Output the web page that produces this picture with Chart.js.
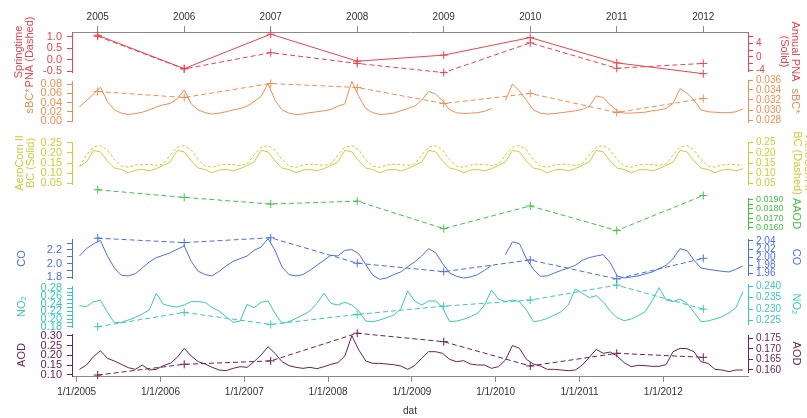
<!DOCTYPE html>
<html>
<head>
<meta charset="utf-8">
<script src="https://cdn.jsdelivr.net/npm/chart.js@4/dist/chart.umd.min.js"></script>
<style>
  html, body { margin: 0; padding: 0; background: #fff; }
  #wrap { width: 807px; height: 418px; }
</style>
</head>
<body>
<div id="wrap"><canvas id="chart" width="807" height="418"></canvas></div>
<script>
// yearly (spring) values, drawn against the top year axis
const years = [2005, 2006, 2007, 2008, 2009, 2010, 2011, 2012];
const springPna = [1.02, -0.41, 0.30, -0.17, -0.57, 0.73, -0.38, -0.17];
const annualPna = [6.4, -3.5, 6.7, -1.3, 0.5, 5.7, -1.8, -5.0];
const springSbc = [0.0337, 0.0325, 0.0353, 0.0345, 0.0313, 0.0333, 0.0295, 0.0323];
const springAaod = [0.0200, 0.0192, 0.0185, 0.0188, 0.0159, 0.0183, 0.0157, 0.0194];
const springCo = [2.047, 2.036, 2.048, 1.985, 1.964, 1.993, 1.946, 1.997];
const springNo2 = [0.2224, 0.2286, 0.2234, 0.2277, 0.2313, 0.2339, 0.2404, 0.2300];
const springAod = [0.1576, 0.1627, 0.1643, 0.1774, 0.1734, 0.1619, 0.1679, 0.1660];

// monthly values Jan 2005 .. Dec 2012, drawn against the bottom date axis
const months = [];
for (let i = 0; i < 96; i++) months.push(2005 + (i + 0.4) / 12);

const sbc = [
  0.031, 0.044, 0.058, 0.073, 0.042, 0.024, 0.017, 0.014, 0.016, 0.019, 0.024, 0.030,
  0.035, 0.038, 0.048, 0.067, 0.037, 0.024, 0.018, 0.015, 0.017, 0.020, 0.024, 0.027,
  0.032, 0.042, 0.053, 0.081, 0.045, 0.024, 0.017, 0.014, 0.015, 0.018, 0.020, 0.022,
  0.025, 0.032, 0.037, 0.086, 0.053, 0.027, 0.018, 0.014, 0.015, 0.017, 0.022, 0.027,
  0.032, 0.045, 0.064, 0.058, 0.044, 0.024, 0.018, 0.016, 0.017, 0.018, 0.021, 0.027,
  null,  0.045, 0.080, 0.065, 0.045, 0.024, 0.017, 0.015, 0.016, 0.018, 0.020, 0.022,
  0.025, 0.032, 0.054, 0.051, 0.035, 0.022, 0.017, 0.017, 0.018, 0.019, 0.022, 0.024,
  0.027, 0.038, 0.070, 0.060, 0.045, 0.024, 0.020, 0.019, 0.018, 0.018, 0.020, 0.026
];
const bcSolid = [
  0.132, 0.155, 0.212, 0.205, 0.160, 0.125, 0.118, 0.102, 0.115, 0.119, 0.111, 0.122,
  0.138, 0.155, 0.212, 0.205, 0.160, 0.125, 0.118, 0.102, 0.115, 0.119, 0.111, 0.122,
  0.138, 0.155, 0.212, 0.205, 0.160, 0.125, 0.118, 0.102, 0.115, 0.119, 0.111, 0.122,
  0.138, 0.155, 0.212, 0.205, 0.160, 0.125, 0.118, 0.102, 0.115, 0.119, 0.111, 0.122,
  0.138, 0.155, 0.212, 0.205, 0.160, 0.125, 0.118, 0.102, 0.115, 0.119, 0.111, 0.122,
  0.138, 0.155, 0.212, 0.205, 0.160, 0.125, 0.118, 0.102, 0.115, 0.119, 0.111, 0.122,
  0.138, 0.155, 0.212, 0.205, 0.160, 0.125, 0.118, 0.102, 0.115, 0.119, 0.111, 0.122,
  0.138, 0.155, 0.212, 0.205, 0.160, 0.125, 0.118, 0.102, 0.115, 0.119, 0.111, 0.122
];
const bcDashed = [
  0.132, 0.190, 0.228, 0.236, 0.214, 0.167, 0.135, 0.129, 0.140, 0.144, 0.142, 0.138,
  0.145, 0.190, 0.228, 0.236, 0.214, 0.167, 0.135, 0.129, 0.140, 0.144, 0.142, 0.138,
  0.145, 0.190, 0.228, 0.236, 0.214, 0.167, 0.135, 0.129, 0.140, 0.144, 0.142, 0.138,
  0.145, 0.190, 0.228, 0.236, 0.214, 0.167, 0.135, 0.129, 0.140, 0.144, 0.142, 0.138,
  0.145, 0.190, 0.228, 0.236, 0.214, 0.167, 0.135, 0.129, 0.140, 0.144, 0.142, 0.138,
  0.145, 0.190, 0.228, 0.236, 0.214, 0.167, 0.135, 0.129, 0.140, 0.144, 0.142, 0.138,
  0.145, 0.190, 0.228, 0.236, 0.214, 0.167, 0.135, 0.129, 0.140, 0.144, 0.142, 0.138,
  0.145, 0.190, 0.228, 0.236, 0.214, 0.167, 0.135, 0.129, 0.140, 0.144, 0.142, 0.138
];
const co = [
  2.112, 2.220, 2.290, 2.340, 2.110, 1.937, 1.830, 1.820, 1.854, 1.937, 2.024, 2.088,
  2.122, 2.160, 2.210, 2.260, 2.034, 1.888, 1.840, 1.820, 1.888, 1.966, 2.034, 2.073,
  2.112, 2.195, 2.244, 2.366, 2.195, 1.951, 1.840, 1.820, 1.840, 1.902, 1.976, 2.049,
  2.122, 2.112, 2.195, 2.205, 2.146, 1.985, 1.830, 1.771, 1.790, 1.840, 1.878, 1.956,
  2.024, 2.112, 2.220, 2.160, 2.000, 1.863, 1.815, 1.790, 1.805, 1.839, 1.902, 1.976,
  null,  2.132, 2.320, 2.293, 2.073, 1.917, 1.815, 1.820, 1.863, 1.902, 1.937, 1.976,
  2.049, 2.088, 2.112, 2.132, 2.015, 1.820, 1.790, 1.805, 1.820, 1.849, 1.878, 1.927,
  1.976, 2.073, 2.220, 2.190, 2.049, 1.937, 1.917, 1.902, 1.888, 1.878, 1.917, 1.966
];
const no2 = [
  0.2348, 0.2322, 0.2452, 0.2487, 0.2174, 0.1904, 0.1913, 0.1974, 0.2043, 0.2130, 0.2235, 0.2670,
  0.2383, 0.2339, 0.2313, 0.2365, 0.2452, 0.2452, 0.2435, 0.2296, 0.2209, 0.2061, 0.1913, 0.1948,
  0.2383, 0.2296, 0.2435, 0.2470, 0.2148, 0.1887, 0.1930, 0.2017, 0.2104, 0.2209, 0.2409, 0.2670,
  0.2409, 0.2365, 0.2435, 0.2365, 0.2209, 0.1948, 0.1930, 0.1974, 0.2035, 0.2104, 0.2261, 0.2730,
  0.2470, 0.2365, 0.2470, 0.2470, 0.2296, 0.1930, 0.1948, 0.1991, 0.2061, 0.2148, 0.2365, 0.2757,
  0.2522, 0.2452, 0.2496, 0.2452, 0.2235, 0.1930, 0.1957, 0.2017, 0.2104, 0.2191, 0.2365, 0.2783,
  0.2670, 0.2557, 0.2609, 0.2452, 0.2209, 0.2035, 0.1957, 0.2000, 0.2087, 0.2191, 0.2470, 0.2817,
  0.2496, 0.2452, 0.2522, 0.2409, 0.2174, 0.1930, 0.1948, 0.2000, 0.2061, 0.2157, 0.2296, 0.2713
];
const aod = [
  0.1288, 0.1508, 0.1932, 0.2237, 0.1847, 0.1712, 0.1542, 0.1373, 0.1288, 0.1508, 0.1254, 0.1288,
  0.1475, 0.1593, 0.1898, 0.2356, 0.1966, 0.1678, 0.1559, 0.1390, 0.1254, 0.1220, 0.1339, 0.1424,
  0.1390, 0.1678, 0.2017, 0.2441, 0.2102, 0.1678, 0.1475, 0.1390, 0.1339, 0.1390, 0.1322, 0.1424,
  0.1542, 0.1627, 0.1966, 0.3000, 0.2271, 0.1712, 0.1593, 0.1593, 0.1559, 0.1525, 0.1458, 0.1288,
  0.1475, 0.1847, 0.2186, 0.2186, 0.2102, 0.1797, 0.1678, 0.1729, 0.1559, 0.1508, 0.1508, 0.1339,
  0.1424, 0.1763, 0.2500, 0.2360, 0.1797, 0.1559, 0.1458, 0.1288, 0.1288, 0.1254, 0.1220, 0.1254,
  0.1508, 0.1898, 0.2305, 0.2102, 0.2169, 0.1966, 0.1627, 0.1424, 0.1492, 0.1475, 0.1441, 0.1441,
  0.1525, 0.2186, 0.2356, 0.2339, 0.2186, 0.1678, 0.1593, 0.1288, 0.1254, 0.1169, 0.1254, 0.1254
];

// axis ticks
const yearTicks = [2005, 2006, 2007, 2008, 2009, 2010, 2011, 2012];
const yearTickLabels = ['2005', '2006', '2007', '2008', '2009', '2010', '2011', '2012'];
const dateTicks = [2005, 2006, 2007, 2008, 2009, 2010, 2011, 2012];
const dateTickLabels = ['1/1/2005', '1/1/2006', '1/1/2007', '1/1/2008', '1/1/2009', '1/1/2010', '1/1/2011', '1/1/2012'];

const pnaLTicks = [-0.5, 0, 0.5, 1.0];
const pnaLLabels = ['-0.5', '0.0', '0.5', '1.0'];
const pnaRTicks = [-4, -2, 0, 2, 4, 6];
const pnaRLabels = ['-4', '', '0', '', '4', ''];
const sbcLTicks = [0, 0.02, 0.04, 0.06, 0.08];
const sbcLLabels = ['0.00', '0.02', '0.04', '0.06', '0.08'];
const sbcRTicks = [0.028, 0.030, 0.032, 0.034, 0.036];
const sbcRLabels = ['0.028', '0.030', '0.032', '0.034', '0.036'];
const bcTicks = [0.05, 0.10, 0.15, 0.20, 0.25];
const bcLabels = ['0.05', '0.10', '0.15', '0.20', '0.25'];
const aaodTicks = [0.0160, 0.0165, 0.0170, 0.0175, 0.0180, 0.0185, 0.0190];
const aaodLabels = ['0.0160', '', '0.0170', '', '0.0180', '', '0.0190'];
const coLTicks = [1.8, 1.9, 2.0, 2.1, 2.2, 2.3];
const coLLabels = ['1.8', '', '2.0', '', '2.2', ''];
const coRTicks = [1.96, 1.98, 2.00, 2.02, 2.04];
const coRLabels = ['1.96', '1.98', '2.00', '2.02', '2.04'];
const no2LTicks = [0.18, 0.19, 0.20, 0.21, 0.22, 0.23, 0.24, 0.25, 0.26, 0.27, 0.28];
const no2LLabels = ['0.18', '', '0.20', '', '0.22', '', '0.24', '', '0.26', '', '0.28'];
const no2RTicks = [0.225, 0.230, 0.235, 0.240];
const no2RLabels = ['0.225', '0.230', '0.235', '0.240'];
const aodLTicks = [0.10, 0.15, 0.20, 0.25, 0.30];
const aodLLabels = ['0.10', '0.15', '0.20', '0.25', '0.30'];
const aodRTicks = [0.160, 0.165, 0.170, 0.175];
const aodRLabels = ['0.160', '0.165', '0.170', '0.175'];

const FONT = "'Liberation Sans', Arial, Helvetica, sans-serif";
const AXIS_GREY = '#8a8a8a';
const LEFT_W = 72;
const RIGHT_W = 59;

const colors = {
  pna: '#e8444e',
  sbc: '#f28c52',
  bc: '#cdcd3a',
  aaod: '#45c045',
  co: '#4b6fe0',
  no2: '#3ac8bc',
  aod: '#6b2152'
};

function valueAxis(side, color, range, tickValues, tickLabels, title, titlePad, tickSize) {
  return {
    type: 'linear',
    position: side,
    stack: side,
    bounds: 'data',
    min: range[0],
    max: range[1],
    afterBuildTicks: s => { s.ticks = tickValues.map(v => ({ value: v })); },
    afterFit: s => { s.width = side === 'left' ? LEFT_W : RIGHT_W; },
    ticks: {
      autoSkip: false,
      color,
      padding: side === 'left' ? 5 : 3,
      font: { family: FONT, size: tickSize || (side === 'left' ? 11 : 10) },
      callback: (v, i) => tickLabels[i]
    },
    grid: { display: true, drawOnChartArea: false, drawTicks: true, tickLength: 5, color, tickColor: color },
    border: { display: true, color, width: 1 },
    title: {
      display: true,
      text: title,
      color,
      font: { family: FONT, size: 11, lineHeight: 1.0 },
      padding: { top: titlePad, bottom: 0 }
    }
  };
}

function spacer(side) {
  return {
    type: 'linear',
    position: side,
    stack: side,
    display: true,
    afterFit: s => { s.width = side === 'left' ? LEFT_W : RIGHT_W; },
    ticks: { display: false },
    grid: { display: false },
    border: { display: false }
  };
}

// panels top to bottom: [id, band height, axis]
const leftStack = [
  ['pnaL', 40, valueAxis('left', colors.pna, [-0.5437, 1.2055], pnaLTicks, pnaLLabels, ['Springtime', 'PNA (Dashed)'], 13)],
  ['gapL1', 9, spacer('left')],
  ['sbcL', 40, valueAxis('left', colors.sbc, [0, 0.0865], sbcLTicks, sbcLLabels, 'sBC*', 24.5)],
  ['gapL2', 21, spacer('left')],
  ['bcL', 42, valueAxis('left', colors.bc, [0.0466, 0.2534], bcTicks, bcLabels, ['AeroCom II', 'BC (Solid)'], 14.5)],
  ['gapL3', 55, spacer('left')],
  ['coL', 39, valueAxis('left', colors.co, [1.7897, 2.361], coLTicks, coLLabels, 'CO', 16)],
  ['gapL4', 8, spacer('left')],
  ['no2L', 41, valueAxis('left', colors.no2, [0.1792, 0.286], no2LTicks, no2LLabels, 'NO\u2082', 16)],
  ['gapL5', 7, spacer('left')],
  ['aodL', 42, valueAxis('left', colors.aod, [0.0949, 0.3087], aodLTicks, aodLLabels, 'AOD', 16)]
];
const rightStack = [
  ['pnaR', 39, valueAxis('right', colors.pna, [-4.207, 7.348], pnaRTicks, pnaRLabels, ['Annual PNA', '(Solid)'], 6.5)],
  ['gapR1', 9, spacer('right')],
  ['sbcR', 42, valueAxis('right', colors.sbc, [0.0276, 0.036], sbcRTicks, sbcRLabels, 'sBC*', 6.5)],
  ['gapR2', 20, spacer('right')],
  ['bcR', 42, valueAxis('right', colors.bc, [0.0466, 0.2534], bcTicks, bcLabels, ['AeroCom II', 'BC (Dashed)'], -6.5)],
  ['gapR3', 14, spacer('right')],
  ['aaod', 31, valueAxis('right', colors.aaod, [0.015863, 0.019137], aaodTicks, aaodLabels, 'AAOD', 5, 9)],
  ['gapR4', 10, spacer('right')],
  ['coR', 36, valueAxis('right', colors.co, [1.95579, 2.04495], coRTicks, coRLabels, 'CO', 5.5)],
  ['gapR5', 9, spacer('right')],
  ['no2R', 40, valueAxis('right', colors.no2, [0.223573, 0.240865], no2RTicks, no2RLabels, 'NO\u2082', 5.5)],
  ['gapR6', 11, spacer('right')],
  ['aodR', 37, valueAxis('right', colors.aod, [0.159053, 0.176562], aodRTicks, aodRLabels, 'AOD', 5.5)],
  ['gapR7', 4, spacer('right')]
];

const scales = {
  x: {
    type: 'linear',
    position: 'bottom',
    bounds: 'data',
    min: 2004.944,
    max: 2013.011,
    afterBuildTicks: s => { s.ticks = dateTicks.map(v => ({ value: v })); },
    afterFit: s => { s.height = 42; },
    ticks: {
      autoSkip: false, maxRotation: 0, color: '#333', padding: 4,
      font: { family: FONT, size: 10 },
      callback: (v, i) => dateTickLabels[i]
    },
    grid: { drawOnChartArea: false, drawTicks: true, tickLength: 6, color: AXIS_GREY, tickColor: AXIS_GREY },
    border: { color: AXIS_GREY },
    title: { display: true, text: 'dat', color: '#333', font: { family: FONT, size: 10 }, padding: { top: 0, bottom: 1 } }
  },
  x2: {
    type: 'linear',
    position: 'top',
    bounds: 'data',
    min: 2004.703,
    max: 2012.517,
    afterBuildTicks: s => { s.ticks = yearTicks.map(v => ({ value: v })); },
    afterFit: s => { s.height = 32; },
    ticks: {
      autoSkip: false, maxRotation: 0, color: '#333', padding: 3,
      font: { family: FONT, size: 10 },
      callback: (v, i) => yearTickLabels[i]
    },
    grid: { drawOnChartArea: false, drawTicks: true, tickLength: 6, color: AXIS_GREY, tickColor: AXIS_GREY },
    border: { color: AXIS_GREY }
  }
};
leftStack.forEach(([id, band, axis], k) => {
  scales[id] = Object.assign(axis, { stackWeight: band, weight: 100 - k });
});
rightStack.forEach(([id, band, axis], k) => {
  scales[id] = Object.assign(axis, { stackWeight: band, weight: k });
});

function monthly(values) {
  return months.map((t, i) => ({ x: t, y: values[i] }));
}
function yearly(values) {
  return years.map((y, i) => ({ x: y, y: values[i] }));
}

function solidLine(values, color, yAxisID) {
  return {
    data: monthly(values), xAxisID: 'x', yAxisID,
    borderColor: color, borderWidth: 1, pointRadius: 0, spanGaps: false, clip: false
  };
}
function yearlyLine(values, color, yAxisID, dash) {
  return {
    data: yearly(values), xAxisID: 'x2', yAxisID,
    borderColor: color, borderWidth: 1, borderDash: dash, clip: false,
    pointStyle: 'cross', pointRadius: 4, pointBorderWidth: 1, pointBorderColor: color
  };
}

const datasets = [
  yearlyLine(springPna, colors.pna, 'pnaL', [5, 3]),
  yearlyLine(annualPna, colors.pna, 'pnaR', []),
  solidLine(sbc, colors.sbc, 'sbcL'),
  yearlyLine(springSbc, colors.sbc, 'sbcR', [5, 3]),
  solidLine(bcSolid, colors.bc, 'bcL'),
  Object.assign(solidLine(bcDashed, colors.bc, 'bcR'), { borderDash: [3, 2] }),
  yearlyLine(springAaod, colors.aaod, 'aaod', [5, 3]),
  solidLine(co, colors.co, 'coL'),
  yearlyLine(springCo, colors.co, 'coR', [5, 3]),
  solidLine(no2, colors.no2, 'no2L'),
  yearlyLine(springNo2, colors.no2, 'no2R', [5, 3]),
  solidLine(aod, colors.aod, 'aodL'),
  yearlyLine(springAod, colors.aod, 'aodR', [5, 3])
];

new Chart(document.getElementById('chart'), {
  type: 'line',
  data: { datasets },
  options: {
    responsive: false,
    animation: false,
    layout: { padding: 0 },
    elements: { line: { tension: 0 } },
    plugins: { legend: { display: false }, tooltip: { enabled: false } },
    scales
  }
});
</script>
</body>
</html>
